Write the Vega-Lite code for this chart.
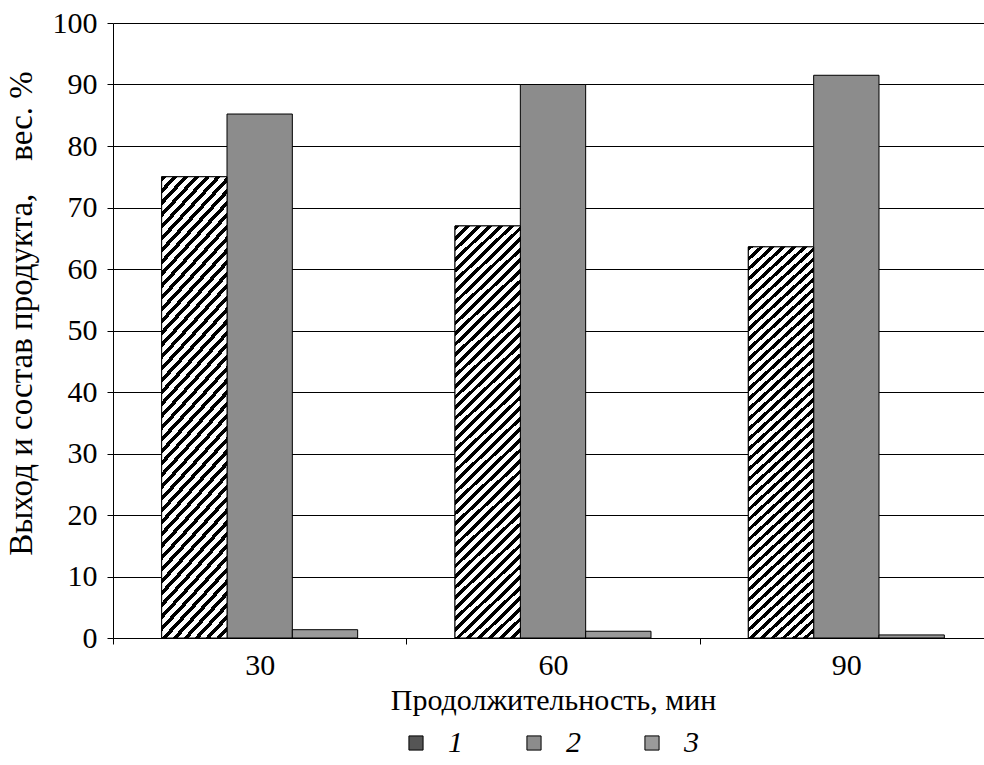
{
  "$schema": "https://vega.github.io/schema/vega-lite/v6.json",
  "autosize": {"type": "none"},
  "padding": {"left": 113, "top": 23, "right": 0, "bottom": 127},
  "width": 871,
  "height": 615,
  "background": "white",
  "config": {
    "view": {"stroke": null},
    "axis": {
      "domainColor": "black", "tickColor": "black", "gridColor": "black", "gridOpacity": 1,
      "labelColor": "black", "titleColor": "black",
      "labelFont": "Liberation Serif", "titleFont": "Liberation Serif",
      "labelFontSize": 30, "titleFontSize": 30, "titleFontWeight": "normal",
      "tickSize": 6, "domainWidth": 1, "tickWidth": 1, "gridWidth": 1
    },
    "legend": {
      "labelFont": "Liberation Serif", "labelFontStyle": "italic", "labelFontSize": 30, "labelColor": "black"
    }
  },
  "data": {
    "values": [
      {"t": "30", "s": "1", "v": 75.0},
      {"t": "30", "s": "2", "v": 85.2},
      {"t": "30", "s": "3", "v": 1.35},
      {"t": "60", "s": "1", "v": 67.0},
      {"t": "60", "s": "2", "v": 90.0},
      {"t": "60", "s": "3", "v": 1.1},
      {"t": "90", "s": "1", "v": 63.6},
      {"t": "90", "s": "2", "v": 91.5},
      {"t": "90", "s": "3", "v": 0.5}
    ]
  },
  "encoding": {
    "x": {
      "field": "t", "type": "ordinal",
      "scale": {"paddingInner": 0, "paddingOuter": 0, "range": [0, 880]},
      "axis": {"title": "Продолжительность, мин", "labelAngle": 0, "tickBand": "extent", "grid": false, "labelPadding": 6, "titlePadding": 5}
    },
    "xOffset": {"field": "s", "type": "nominal", "scale": {"paddingInner": 0, "paddingOuter": 0.745}},
    "y": {
      "field": "v", "type": "quantitative",
      "scale": {"domain": [0, 100], "nice": false},
      "axis": {"title": "Выход и состав продукта,\u00a0\u00a0\u00a0\u00a0вес. %", "titleFontSize": 33, "titleY": 290, "values": [0,10,20,30,40,50,60,70,80,90,100], "grid": true, "labelPadding": 10, "titlePadding": 14}
    }
  },
  "layer": [
    {
      "mark": {"type": "bar", "stroke": "black", "strokeWidth": 1},
      "encoding": {
        "fill": {
          "field": "s", "type": "nominal",
          "scale": {"domain": ["1", "2", "3"], "range": ["#555555", "#8c8c8c", "#9a9a9a"]},
          "legend": {
            "title": null, "orient": "none", "legendX": 288, "legendY": 705, "direction": "horizontal",
            "symbolType": "square", "symbolSize": 200, "symbolStrokeColor": "black", "symbolStrokeWidth": 1,
            "labelOffset": 17, "columnPadding": 56
          }
        }
      }
    },
    {
      "transform": [{"filter": "datum.s === '1'"}],
      "mark": {"type": "bar", "stroke": "black", "strokeWidth": 1,
        "fill": {"gradient": "linear", "x1": 0, "y1": 0, "x2": 0.1734, "y2": 1.127, "stops": [
            {"offset":0,"color":"#000"},{"offset":0.01,"color":"#000"},{"offset":0.01,"color":"#fff"},{"offset":0.0222,"color":"#fff"},
            {"offset":0.0222,"color":"#000"},{"offset":0.0322,"color":"#000"},{"offset":0.0322,"color":"#fff"},{"offset":0.0444,"color":"#fff"},
            {"offset":0.0444,"color":"#000"},{"offset":0.0544,"color":"#000"},{"offset":0.0544,"color":"#fff"},{"offset":0.0667,"color":"#fff"},
            {"offset":0.0667,"color":"#000"},{"offset":0.0767,"color":"#000"},{"offset":0.0767,"color":"#fff"},{"offset":0.0889,"color":"#fff"},
            {"offset":0.0889,"color":"#000"},{"offset":0.0989,"color":"#000"},{"offset":0.0989,"color":"#fff"},{"offset":0.1111,"color":"#fff"},
            {"offset":0.1111,"color":"#000"},{"offset":0.1211,"color":"#000"},{"offset":0.1211,"color":"#fff"},{"offset":0.1333,"color":"#fff"},
            {"offset":0.1333,"color":"#000"},{"offset":0.1433,"color":"#000"},{"offset":0.1433,"color":"#fff"},{"offset":0.1556,"color":"#fff"},
            {"offset":0.1556,"color":"#000"},{"offset":0.1656,"color":"#000"},{"offset":0.1656,"color":"#fff"},{"offset":0.1778,"color":"#fff"},
            {"offset":0.1778,"color":"#000"},{"offset":0.1878,"color":"#000"},{"offset":0.1878,"color":"#fff"},{"offset":0.2,"color":"#fff"},
            {"offset":0.2,"color":"#000"},{"offset":0.21,"color":"#000"},{"offset":0.21,"color":"#fff"},{"offset":0.2222,"color":"#fff"},
            {"offset":0.2222,"color":"#000"},{"offset":0.2322,"color":"#000"},{"offset":0.2322,"color":"#fff"},{"offset":0.2444,"color":"#fff"},
            {"offset":0.2444,"color":"#000"},{"offset":0.2544,"color":"#000"},{"offset":0.2544,"color":"#fff"},{"offset":0.2667,"color":"#fff"},
            {"offset":0.2667,"color":"#000"},{"offset":0.2767,"color":"#000"},{"offset":0.2767,"color":"#fff"},{"offset":0.2889,"color":"#fff"},
            {"offset":0.2889,"color":"#000"},{"offset":0.2989,"color":"#000"},{"offset":0.2989,"color":"#fff"},{"offset":0.3111,"color":"#fff"},
            {"offset":0.3111,"color":"#000"},{"offset":0.3211,"color":"#000"},{"offset":0.3211,"color":"#fff"},{"offset":0.3333,"color":"#fff"},
            {"offset":0.3333,"color":"#000"},{"offset":0.3433,"color":"#000"},{"offset":0.3433,"color":"#fff"},{"offset":0.3556,"color":"#fff"},
            {"offset":0.3556,"color":"#000"},{"offset":0.3656,"color":"#000"},{"offset":0.3656,"color":"#fff"},{"offset":0.3778,"color":"#fff"},
            {"offset":0.3778,"color":"#000"},{"offset":0.3878,"color":"#000"},{"offset":0.3878,"color":"#fff"},{"offset":0.4,"color":"#fff"},
            {"offset":0.4,"color":"#000"},{"offset":0.41,"color":"#000"},{"offset":0.41,"color":"#fff"},{"offset":0.4222,"color":"#fff"},
            {"offset":0.4222,"color":"#000"},{"offset":0.4322,"color":"#000"},{"offset":0.4322,"color":"#fff"},{"offset":0.4444,"color":"#fff"},
            {"offset":0.4444,"color":"#000"},{"offset":0.4544,"color":"#000"},{"offset":0.4544,"color":"#fff"},{"offset":0.4667,"color":"#fff"},
            {"offset":0.4667,"color":"#000"},{"offset":0.4767,"color":"#000"},{"offset":0.4767,"color":"#fff"},{"offset":0.4889,"color":"#fff"},
            {"offset":0.4889,"color":"#000"},{"offset":0.4989,"color":"#000"},{"offset":0.4989,"color":"#fff"},{"offset":0.5111,"color":"#fff"},
            {"offset":0.5111,"color":"#000"},{"offset":0.5211,"color":"#000"},{"offset":0.5211,"color":"#fff"},{"offset":0.5333,"color":"#fff"},
            {"offset":0.5333,"color":"#000"},{"offset":0.5433,"color":"#000"},{"offset":0.5433,"color":"#fff"},{"offset":0.5556,"color":"#fff"},
            {"offset":0.5556,"color":"#000"},{"offset":0.5656,"color":"#000"},{"offset":0.5656,"color":"#fff"},{"offset":0.5778,"color":"#fff"},
            {"offset":0.5778,"color":"#000"},{"offset":0.5878,"color":"#000"},{"offset":0.5878,"color":"#fff"},{"offset":0.6,"color":"#fff"},
            {"offset":0.6,"color":"#000"},{"offset":0.61,"color":"#000"},{"offset":0.61,"color":"#fff"},{"offset":0.6222,"color":"#fff"},
            {"offset":0.6222,"color":"#000"},{"offset":0.6322,"color":"#000"},{"offset":0.6322,"color":"#fff"},{"offset":0.6444,"color":"#fff"},
            {"offset":0.6444,"color":"#000"},{"offset":0.6544,"color":"#000"},{"offset":0.6544,"color":"#fff"},{"offset":0.6667,"color":"#fff"},
            {"offset":0.6667,"color":"#000"},{"offset":0.6767,"color":"#000"},{"offset":0.6767,"color":"#fff"},{"offset":0.6889,"color":"#fff"},
            {"offset":0.6889,"color":"#000"},{"offset":0.6989,"color":"#000"},{"offset":0.6989,"color":"#fff"},{"offset":0.7111,"color":"#fff"},
            {"offset":0.7111,"color":"#000"},{"offset":0.7211,"color":"#000"},{"offset":0.7211,"color":"#fff"},{"offset":0.7333,"color":"#fff"},
            {"offset":0.7333,"color":"#000"},{"offset":0.7433,"color":"#000"},{"offset":0.7433,"color":"#fff"},{"offset":0.7556,"color":"#fff"},
            {"offset":0.7556,"color":"#000"},{"offset":0.7656,"color":"#000"},{"offset":0.7656,"color":"#fff"},{"offset":0.7778,"color":"#fff"},
            {"offset":0.7778,"color":"#000"},{"offset":0.7878,"color":"#000"},{"offset":0.7878,"color":"#fff"},{"offset":0.8,"color":"#fff"},
            {"offset":0.8,"color":"#000"},{"offset":0.81,"color":"#000"},{"offset":0.81,"color":"#fff"},{"offset":0.8222,"color":"#fff"},
            {"offset":0.8222,"color":"#000"},{"offset":0.8322,"color":"#000"},{"offset":0.8322,"color":"#fff"},{"offset":0.8444,"color":"#fff"},
            {"offset":0.8444,"color":"#000"},{"offset":0.8544,"color":"#000"},{"offset":0.8544,"color":"#fff"},{"offset":0.8667,"color":"#fff"},
            {"offset":0.8667,"color":"#000"},{"offset":0.8767,"color":"#000"},{"offset":0.8767,"color":"#fff"},{"offset":0.8889,"color":"#fff"},
            {"offset":0.8889,"color":"#000"},{"offset":0.8989,"color":"#000"},{"offset":0.8989,"color":"#fff"},{"offset":0.9111,"color":"#fff"},
            {"offset":0.9111,"color":"#000"},{"offset":0.9211,"color":"#000"},{"offset":0.9211,"color":"#fff"},{"offset":0.9333,"color":"#fff"},
            {"offset":0.9333,"color":"#000"},{"offset":0.9433,"color":"#000"},{"offset":0.9433,"color":"#fff"},{"offset":0.9556,"color":"#fff"},
            {"offset":0.9556,"color":"#000"},{"offset":0.9656,"color":"#000"},{"offset":0.9656,"color":"#fff"},{"offset":0.9778,"color":"#fff"},
            {"offset":0.9778,"color":"#000"},{"offset":0.9878,"color":"#000"},{"offset":0.9878,"color":"#fff"},{"offset":1,"color":"#fff"}
          ]}
      }
    }
  ]
}
